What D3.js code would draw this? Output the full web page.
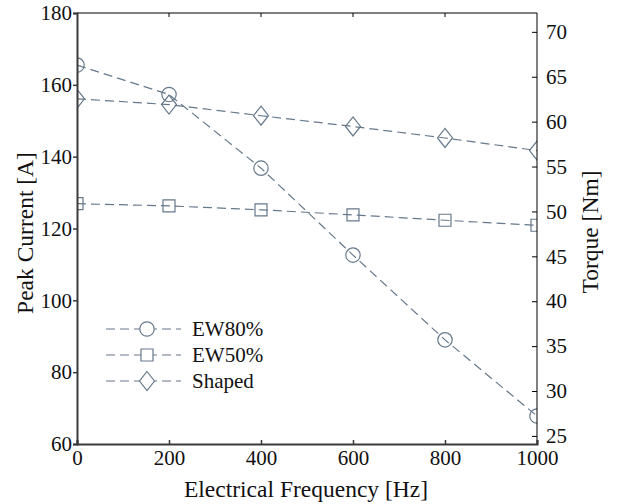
<!DOCTYPE html>
<html>
<head>
<meta charset="utf-8">
<script src="https://cdn.jsdelivr.net/npm/d3@7"></script>
<style>
body { margin: 0; background: #fff; }
text { font-family: "Liberation Serif", "Times New Roman", serif; fill: #111; }
</style>
</head>
<body>
<script>
// data (current scale, left axis)
var freq = [0, 200, 400, 600, 800, 1000];
var ew80 = [165.5, 157.3, 136.8, 112.6, 89.0, 67.8];
var ew50 = [126.9, 126.3, 125.2, 123.8, 122.3, 120.9];
var shaped = [156.1, 154.5, 151.4, 148.4, 145.2, 141.7];
var seriesNames = ["EW80%", "EW50%", "Shaped"];
var seriesMarks = ["circle", "square", "diamond"];
var xTicks = [0, 200, 400, 600, 800, 1000];
var yTicks = [60, 80, 100, 120, 140, 160, 180];
var y2Ticks = [25, 30, 35, 40, 45, 50, 55, 60, 65, 70];

var width = 623, height = 504;
var pLeft = 77, pRight = 537, pTop = 13, pBottom = 444;
var col = "#66788b";

var svg = d3.select("body").append("svg")
  .attr("width", width)
  .attr("height", height);

// markers get cut at the plot frame like the original
svg.append("clipPath").attr("id", "plotclip")
  .append("rect").attr("x", pLeft).attr("y", pTop)
  .attr("width", pRight - pLeft).attr("height", pBottom - pTop);

var x = d3.scaleLinear().domain([0, 1000]).range([pLeft, pRight]);
var y = d3.scaleLinear().domain([60, 180]).range([pBottom, pTop]);
var y2 = d3.scaleLinear().domain([24.1, 72.1]).range([pBottom, pTop]);

function markerPath(kind) {
  if (kind == "circle") return d3.symbol().type(d3.symbolCircle).size(Math.PI * 7.2 * 7.2)();
  if (kind == "square") return "M-6,-6H6V6H-6Z";
  return "M0,-9.5L7.5,0L0,9.5L-7.5,0Z";
}

var plot = svg.append("g").attr("clip-path", "url(#plotclip)");
var all = [ew80, ew50, shaped];
var line = d3.line().x((d, i) => x(freq[i])).y(d => y(d));

all.forEach(function (vals, k) {
  plot.append("path")
    .attr("d", line(vals))
    .attr("fill", "none")
    .attr("stroke", col)
    .attr("stroke-width", 1.2)
    .attr("stroke-dasharray", "9,5");
  plot.selectAll(".m" + k).data(vals).enter().append("path")
    .attr("class", "m" + k)
    .attr("transform", (d, i) => "translate(" + x(freq[i]) + "," + y(d) + ")")
    .attr("d", markerPath(seriesMarks[k]))
    .attr("fill", "none")
    .attr("stroke", col)
    .attr("stroke-width", 1.2);
});

// frame: top and right thin black
svg.append("line").attr("x1", pLeft).attr("x2", pRight).attr("y1", pTop).attr("y2", pTop)
  .attr("stroke", "#000").attr("stroke-width", 1);
svg.append("line").attr("x1", pRight).attr("x2", pRight).attr("y1", pTop).attr("y2", pBottom)
  .attr("stroke", "#000").attr("stroke-width", 1);

// top ticks (inward)
svg.append("g").selectAll("line").data(xTicks.slice(1, -1)).enter().append("line")
  .attr("x1", d => x(d)).attr("x2", d => x(d))
  .attr("y1", pTop).attr("y2", pTop + 4)
  .attr("stroke", "#000");

// bottom axis
var gx = svg.append("g")
  .attr("transform", "translate(0," + pBottom + ")")
  .call(d3.axisBottom(x).tickValues(xTicks).tickSize(-4).tickPadding(6).tickFormat(d3.format("d")));
gx.select(".domain").attr("stroke", "#3a3a3a").attr("stroke-width", 2);
gx.selectAll(".tick line").attr("stroke", "#3a3a3a").attr("stroke-width", 1.5);
gx.selectAll(".tick text").style("font-size", "21px").attr("fill", "#111");

// left axis
var gy = svg.append("g")
  .attr("transform", "translate(" + pLeft + ",0)")
  .call(d3.axisLeft(y).tickValues(yTicks).tickSize(4).tickPadding(1));
gy.select(".domain").attr("stroke", "#3a3a3a").attr("stroke-width", 2);
gy.selectAll(".tick line").attr("stroke", "#3a3a3a").attr("stroke-width", 1.5);
gy.selectAll(".tick text").style("font-size", "21px").attr("fill", "#111");

// right axis (ticks inward)
var gy2 = svg.append("g")
  .attr("transform", "translate(" + pRight + ",0)")
  .call(d3.axisRight(y2).tickValues(y2Ticks).tickSize(-5).tickPadding(9));
gy2.select(".domain").remove();
gy2.selectAll(".tick line").attr("stroke", "#000");
gy2.selectAll(".tick text").style("font-size", "21px").attr("fill", "#111");

// axis labels
svg.append("text").attr("x", 306).attr("y", 497).attr("text-anchor", "middle")
  .style("font-size", "23.5px").text("Electrical Frequency [Hz]");
svg.append("text").attr("transform", "translate(33,233) rotate(-90)").attr("text-anchor", "middle")
  .style("font-size", "23.5px").text("Peak Current [A]");
svg.append("text").attr("transform", "translate(598,232) rotate(-90)").attr("text-anchor", "middle")
  .style("font-size", "23.5px").text("Torque [Nm]");

// legend
var leg = svg.append("g");
seriesNames.forEach(function (name, k) {
  var ly = 329 + k * 26;
  leg.append("line").attr("x1", 106).attr("x2", 181).attr("y1", ly).attr("y2", ly)
    .attr("stroke", col).attr("stroke-width", 1.2).attr("stroke-dasharray", "9,5");
  leg.append("path").attr("transform", "translate(147," + ly + ")")
    .attr("d", markerPath(seriesMarks[k]))
    .attr("fill", "#fff").attr("stroke", col).attr("stroke-width", 1.2);
  leg.append("text").attr("x", 192).attr("y", ly + 7)
    .style("font-size", "21px").text(name);
});
</script>
</body>
</html>
